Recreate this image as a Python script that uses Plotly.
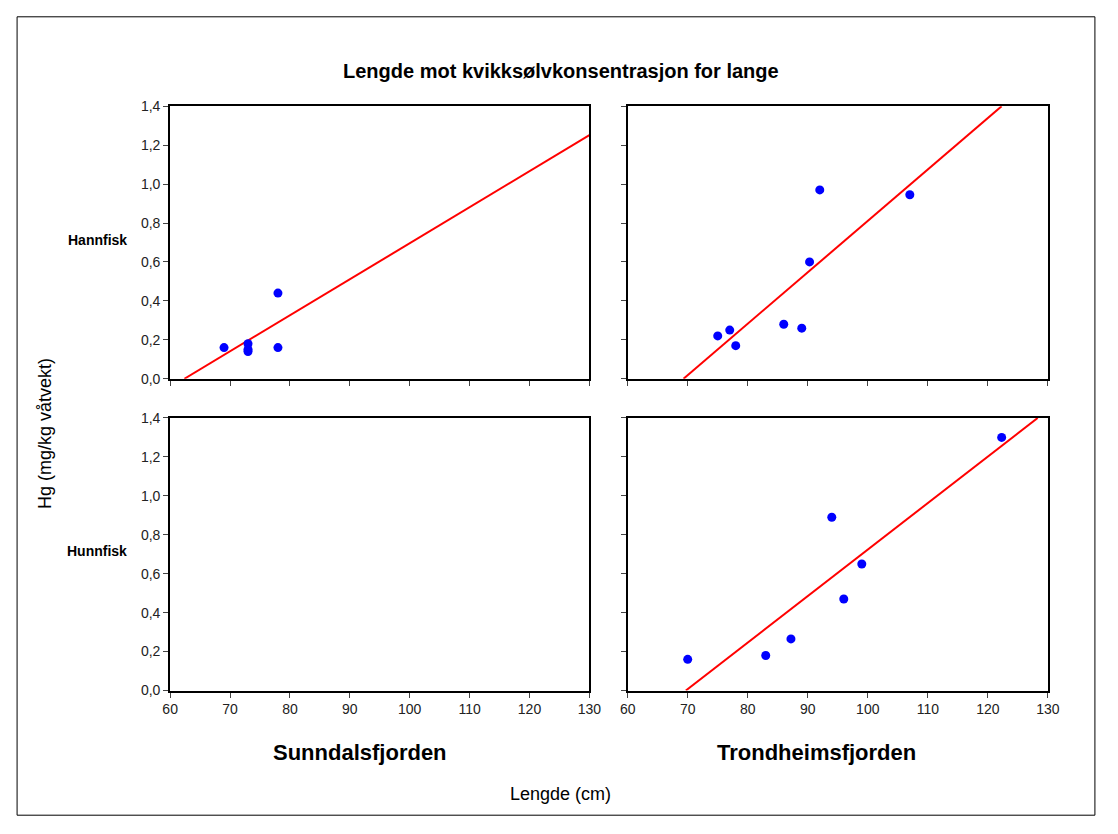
import plotly.graph_objects as go

W, H = 1100, 816
# data
tl_x = [69, 73, 73, 73, 78, 78]
tl_y = [0.16, 0.15, 0.18, 0.14, 0.44, 0.16]
tr_x = [75, 77, 78, 86, 89, 90.3, 92, 107]
tr_y = [0.22, 0.25, 0.17, 0.28, 0.26, 0.60, 0.97, 0.945]
br_x = [70, 83, 87.2, 94, 96, 99, 122.3]
br_y = [0.16, 0.18, 0.265, 0.89, 0.47, 0.65, 1.30]
# regression lines (slope, intercept)
tl_fit = (0.0185, -1.154)
tr_fit = (0.02642, -1.831)
br_fit = (0.02389, -1.665)
x_ticks = [60, 70, 80, 90, 100, 110, 120, 130]
y_ticks = [0, 0.2, 0.4, 0.6, 0.8, 1.0, 1.2, 1.4]
y_labels = ["0,0", "0,2", "0,4", "0,6", "0,8", "1,0", "1,2", "1,4"]

fig = go.Figure()
def px(x): return (x - 5) / W
def py(y): return 1 - (y - 4) / H
doms_x = [(px(162), px(589)), (px(628), px(1056))]
doms_y = [(py(374), py(96)), (py(692), py(414))]

panels = [
    (0, 0, tl_x, tl_y, tl_fit),
    (1, 0, tr_x, tr_y, tr_fit),
    (0, 1, [], [], None),
    (1, 1, br_x, br_y, br_fit),
]
for i, (c, r, xs, ys, fit) in enumerate(panels):
    n = "" if i == 0 else str(i + 1)
    xa, ya = "x" + n, "y" + n
    fig.layout["xaxis" + n] = dict(domain=doms_x[c], anchor=ya, range=[60, 130],
        tickvals=x_ticks, showticklabels=(r == 1), ticks="outside", ticklen=5,
        showline=True, linecolor="black", linewidth=2, mirror=True, showgrid=False,
        zeroline=False, tickfont=dict(size=14, color="#222"))
    fig.layout["yaxis" + n] = dict(domain=doms_y[r], anchor=xa, range=[0, 1.4],
        tickvals=y_ticks, ticktext=y_labels, showticklabels=(c == 0), ticks="outside",
        ticklen=5, showline=True, linecolor="black", linewidth=2, mirror=True,
        showgrid=False, zeroline=False, tickfont=dict(size=14, color="#222"))
    if fit is not None:
        a, b = fit
        x0 = max(60, -b / a)
        x1 = min(130, (1.4 - b) / a)
        fig.add_trace(go.Scatter(x=[x0, x1], y=[a * x0 + b, a * x1 + b], mode="lines",
            line=dict(color="#ff0000", width=2), xaxis=xa, yaxis=ya, showlegend=False))
    fig.add_trace(go.Scatter(x=xs, y=ys, mode="markers",
        marker=dict(color="#0000ff", size=9), xaxis=xa, yaxis=ya, showlegend=False, cliponaxis=False))

def ann(text, x, y, size, bold=False, angle=0):
    fig.add_annotation(text=f"<b>{text}</b>" if bold else text, x=px(x), y=py(y),
        xref="paper", yref="paper", showarrow=False, textangle=angle,
        xanchor="center", yanchor="middle",
        font=dict(size=size, color="black", family="Liberation Sans, Arial"))

ann("Lengde mot kvikksølvkonsentrasjon for lange", 560, 60, 20, True)
ann("Hannfisk", 88, 232, 14, True)
ann("Hunnfisk", 88, 550, 14, True)
ann("Hg (mg/kg våtvekt)", 34, 430, 18, False, -90)
ann("Sunndalsfjorden", 355, 755, 22, True)
ann("Trondheimsfjorden", 820, 755, 22, True)
ann("Lengde (cm)", 560, 798, 18)

fig.add_shape(type="rect", xref="paper", yref="paper", x0=0.001, x1=0.999,
    y0=0.001, y1=0.999, line=dict(color="black", width=1))
fig.update_layout(width=W, height=H, margin=dict(l=0, r=0, t=0, b=0),
    plot_bgcolor="white", paper_bgcolor="white",
    font=dict(family="Liberation Sans, Arial"))
fig.write_html("out.html")
